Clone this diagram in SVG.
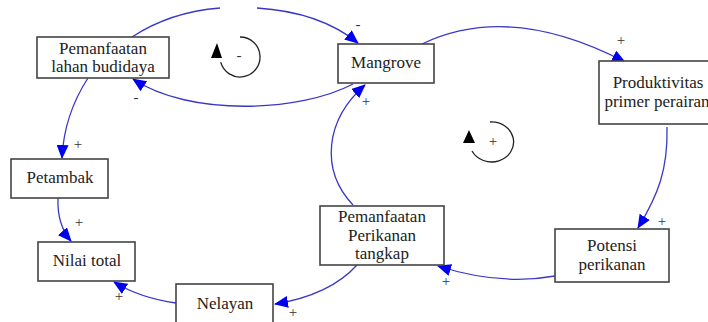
<svg xmlns="http://www.w3.org/2000/svg" width="708" height="322" viewBox="0 0 708 322">
<style>
.box{fill:#fff;stroke:#444;stroke-width:1.6}
.t{font-family:"Liberation Serif","Times New Roman",serif;font-size:17px;fill:#222;text-anchor:middle}
.lab{font-family:"Liberation Serif","Times New Roman",serif;font-size:15px;fill:#333;text-anchor:middle}
.c{fill:none;stroke:#3838c8;stroke-width:1.3;marker-end:url(#ah)}
.loop{fill:none;stroke:#222;stroke-width:1.3}
</style>
<defs>
<marker id="ah" markerUnits="userSpaceOnUse" markerWidth="14" markerHeight="12" refX="13" refY="6" orient="auto">
<path d="M0,0 L14,6 L0,12 Z" fill="#0000f0"/>
</marker>
</defs>
<g id="connectors">
<path class="c" d="M132,37 Q170,12 220,8 M257,8 Q320,12 358,43"/>
<path class="c" d="M353,84 C300,112 190,117 133,79"/>
<path class="c" d="M88,78 Q64,115 62,158"/>
<path class="c" d="M58,198 Q57,225 71,241"/>
<path class="c" d="M176,303 Q140,298 114,282"/>
<path class="c" d="M357,265 Q330,295 275,304"/>
<path class="c" d="M555,276 Q500,286 438,266"/>
<path class="c" d="M667,127 C668,170 658,195 638,228"/>
<path class="c" d="M422,44 Q510,2 625,62"/>
<path class="c" d="M353,205 C320,170 325,120 365,85"/>
</g>
<g id="labels">
<text class="lab" x="358" y="29">-</text>
<text class="lab" x="136" y="102">-</text>
<text class="lab" x="78" y="149">+</text>
<text class="lab" x="79" y="227">+</text>
<text class="lab" x="119" y="301">+</text>
<text class="lab" x="293" y="317">+</text>
<text class="lab" x="446" y="286">+</text>
<text class="lab" x="662" y="226">+</text>
<text class="lab" x="621" y="45">+</text>
<text class="lab" x="366" y="106">+</text>
</g>
<g id="loop-negative">
<path class="loop" d="M240,37 A20,20 0 1 1 220.7,62.2"/>
<polygon points="217,43 211,58 222,58" fill="#000"/>
<text class="lab" x="239" y="60">-</text>
</g>
<g id="loop-positive">
<path class="loop" d="M490,122 A22,20 0 1 1 472,151"/>
<polygon points="469,130 463,143 475,143" fill="#000"/>
<text class="lab" x="493" y="146">+</text>
</g>
<g id="pemanfaatan-lahan">
<rect class="box" x="37" y="37" width="132" height="41"/>
<text class="t" x="103" y="54">Pemanfaatan</text>
<text class="t" x="103" y="72">lahan budidaya</text>
</g>
<g id="mangrove">
<rect class="box" x="338" y="44" width="96" height="39"/>
<text class="t" x="386" y="68">Mangrove</text>
</g>
<g id="produktivitas">
<rect class="box" x="599" y="61" width="118" height="63"/>
<text class="t" x="658" y="88">Produktivitas</text>
<text class="t" x="657" y="107">primer perairan</text>
</g>
<g id="petambak">
<rect class="box" x="11" y="159" width="97" height="39"/>
<text class="t" x="60" y="183">Petambak</text>
</g>
<g id="nilai-total">
<rect class="box" x="38" y="242" width="97" height="39"/>
<text class="t" x="87" y="266">Nilai total</text>
</g>
<g id="nelayan">
<rect class="box" x="176" y="284" width="97" height="46"/>
<text class="t" x="225" y="309">Nelayan</text>
</g>
<g id="pemanfaatan-perikanan">
<rect class="box" x="320" y="206" width="124" height="59"/>
<text class="t" x="382" y="222">Pemanfaatan</text>
<text class="t" x="382" y="241">Perikanan</text>
<text class="t" x="382" y="259">tangkap</text>
</g>
<g id="potensi">
<rect class="box" x="555" y="229" width="114" height="53"/>
<text class="t" x="612" y="251">Potensi</text>
<text class="t" x="612" y="270">perikanan</text>
</g>
</svg>
